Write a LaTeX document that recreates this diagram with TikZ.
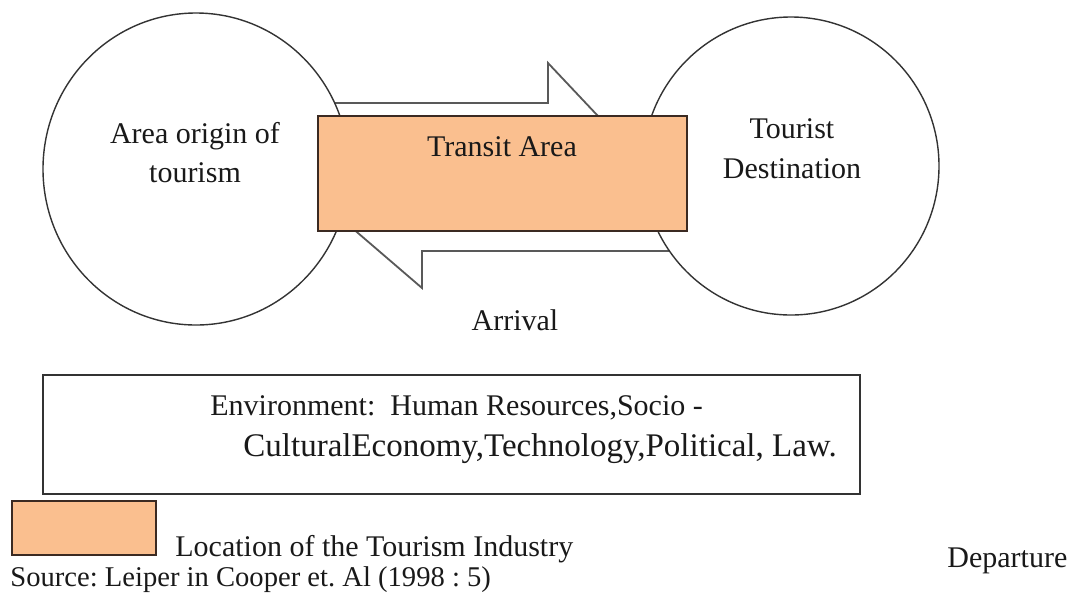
\documentclass[tikz,border=0pt]{standalone}
\usepackage{fontspec}
\setmainfont{Liberation Serif}
\usetikzlibrary{shapes.geometric}
\definecolor{peach}{HTML}{FABF8F}
\definecolor{edgecol}{HTML}{3B2A22}
\frenchspacing
\begin{document}
\begin{tikzpicture}[x=0.5pt,y=-0.5pt,
  area/.style={ellipse, draw=black!80, line width=0.7pt, fill=white, inner sep=0pt},
  lbl/.style={font=\fontsize{15pt}{18pt}\selectfont, inner sep=0pt, anchor=base, text=black!90},
  blockarrow/.style={draw=black!65, line width=0.9pt, fill=white, line join=miter},
  peachbox/.style={draw=edgecol, fill=peach, line width=1pt, inner sep=0pt},
  plainbox/.style={draw=black!80, line width=0.8pt, inner sep=0pt},
  ]
\useasboundingbox (0,0) rectangle (1071,601);
% block arrows
\draw[blockarrow] (250,103) -- (548,103) -- (548,63) -- (614,133) -- (548,203) -- (548,163) -- (250,163) -- cycle;
\draw[blockarrow] (740,251) -- (422,251) -- (422,288) -- (344,221) -- (422,154) -- (422,191) -- (740,191) -- cycle;
% areas
\node[area, minimum width=153pt, minimum height=156pt] (origin) at (196,169) {};
\node[area, minimum width=148pt, minimum height=149pt] (dest) at (791,166) {};
\node[peachbox, minimum width=184.5pt, minimum height=57.5pt] (transit) at (502.5,173.5) {};
% labels
\node[lbl] (origin1) at (195,143) {Area origin of};
\node[lbl] (origin2) at (195,182) {tourism};
\node[lbl] (dest1) at (792,138) {Tourist};
\node[lbl] (dest2) at (792,178) {Destination};
\node[lbl] (transitlbl) at (502,156) {Transit Area};
\node[lbl] (arrival) at (515,330) {Arrival};
% environment
\node[plainbox, minimum width=408.5pt, minimum height=59.5pt] (env) at (451.5,434.5) {};
\node[lbl, anchor=base west] (env1) at (210,415) {Environment:\ \ Human Resources,Socio -};
\node[lbl, anchor=base west, font=\fontsize{16.5pt}{20pt}\selectfont] (env2) at (243,456) {CulturalEconomy,Technology,Political, Law.};
% legend
\node[peachbox, minimum width=72pt, minimum height=27pt] (legend) at (84,528) {};
\node[lbl, anchor=base west] (legendlbl) at (175,556) {Location of the Tourism Industry};
\node[lbl, anchor=base west, font=\fontsize{14.3pt}{17pt}\selectfont] (source) at (10,586) {Source: Leiper in Cooper et. Al (1998 : 5)};
\node[lbl, anchor=base west] (departure) at (947,567) {Departure};
\end{tikzpicture}
\end{document}
